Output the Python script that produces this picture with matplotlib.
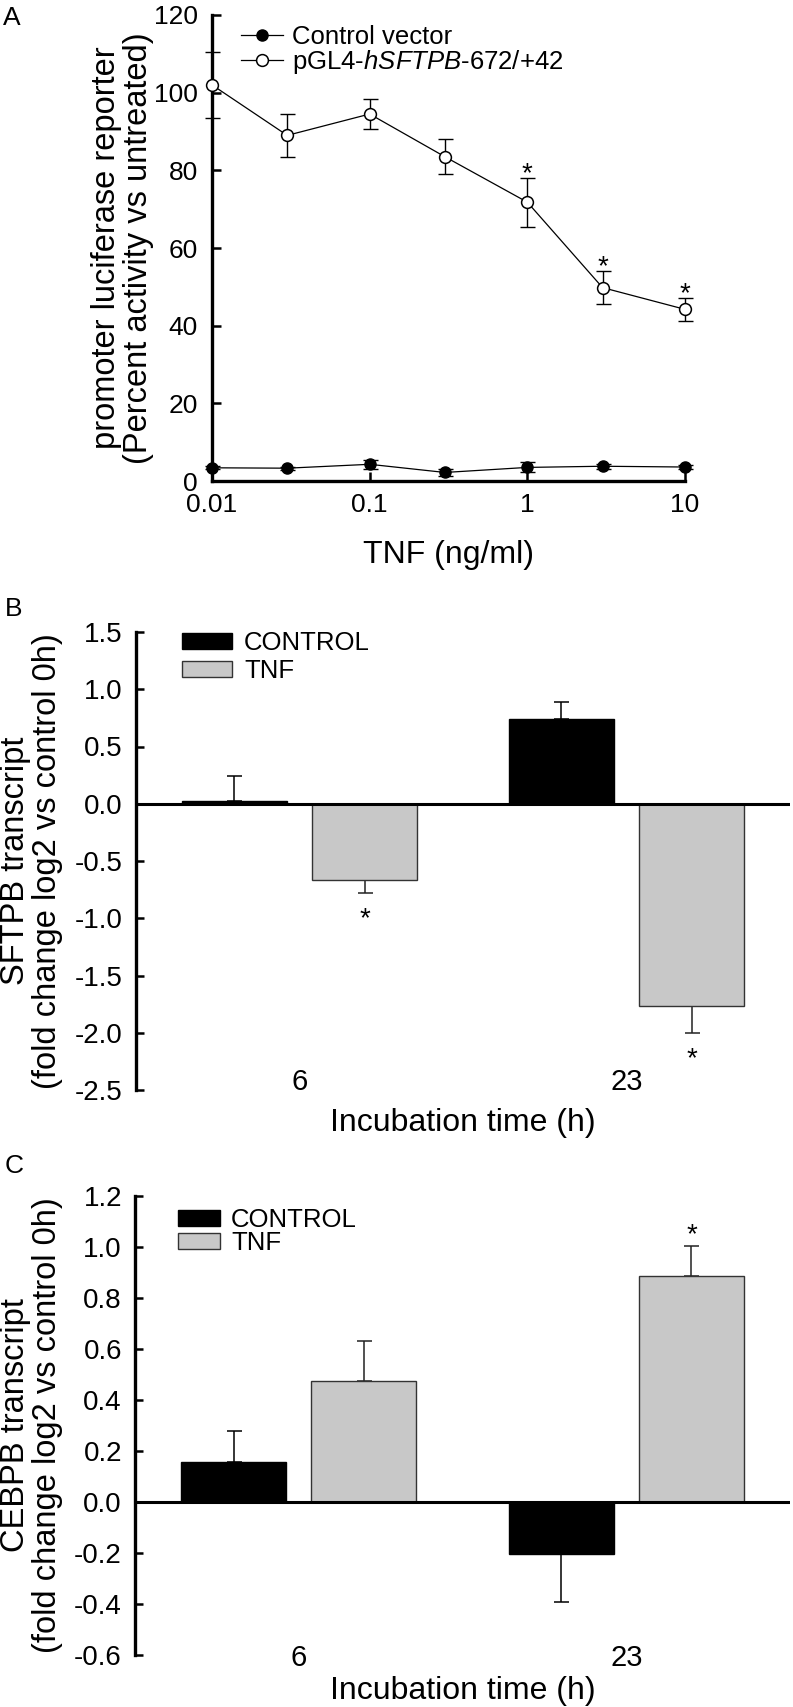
import matplotlib
matplotlib.use('Agg')
import matplotlib.pyplot as plt
from matplotlib.ticker import NullLocator
import numpy as np

# ---- Panel A: promoter luciferase reporter vs TNF dose ----
tnf_dose = [0.01, 0.03, 0.1, 0.3, 1, 3, 10]
dose_ticks = [0.01, 0.1, 1, 10]
dose_tick_labels = ['0.01', '0.1', '1', '10']
control_vector = [3.4, 3.3, 4.3, 2.2, 3.5, 3.8, 3.6]
control_vector_err = [0.4, 0.4, 1.2, 0.8, 1.3, 0.6, 0.6]
promoter = [102.0, 89.0, 94.5, 83.5, 71.8, 49.8, 44.2]
promoter_err = [8.6, 5.5, 3.8, 4.5, 6.3, 4.2, 3.0]
promoter_sig = [False, False, False, False, True, True, True]

# ---- Panels B and C: transcripts vs incubation time ----
times = ['6', '23']
sftpb_control = [0.02, 0.74]
sftpb_control_err = [0.22, 0.147]
sftpb_tnf = [-0.67, -1.77]
sftpb_tnf_err = [0.107, 0.236]
sftpb_tnf_sig = [True, True]

cebpb_control = [0.158, -0.202]
cebpb_control_err = [0.119, 0.189]
cebpb_tnf = [0.475, 0.887]
cebpb_tnf_err = [0.158, 0.117]
cebpb_tnf_sig = [False, True]

W, H = 793, 1707
plt.rcParams['font.family'] = ['Liberation Sans', 'DejaVu Sans']
plt.rcParams['mathtext.fontset'] = 'custom'
plt.rcParams['mathtext.rm'] = 'Liberation Sans'
plt.rcParams['mathtext.it'] = 'Liberation Sans:italic'
plt.rcParams['axes.unicode_minus'] = False

GRAY = '#c8c8c8'


def fx(px):
    return px / W


def fy(py):
    return 1 - py / H


def box(left, top, right, bottom):
    return [fx(left), fy(bottom), (right - left) / W, (bottom - top) / H]


def px2pt(px):
    return px * 72 / 100


fig = plt.figure(figsize=(W / 100, H / 100), dpi=100)

# ================= A =================
ax = fig.add_axes(box(212, 15, 685, 481))
ax.set_xscale('log')
ax.set_xlim(0.01, 10)
ax.set_ylim(0, 120)

ax.errorbar(tnf_dose, control_vector, yerr=control_vector_err, fmt='none',
            ecolor='black', elinewidth=1.0, capsize=5.4, capthick=1.0,
            clip_on=False, zorder=2)
ax.plot(tnf_dose, control_vector, '-o', color='black', lw=0.9, ms=8,
        mfc='black', mec='black', clip_on=False, zorder=3,
        label='Control vector')
ax.errorbar(tnf_dose, promoter, yerr=promoter_err, fmt='none',
            ecolor='black', elinewidth=1.0, capsize=5.4, capthick=1.0,
            clip_on=False, zorder=2)
ax.plot(tnf_dose, promoter, '-o', color='black', lw=0.9, ms=8.5,
        mfc='white', mec='black', mew=1.1, clip_on=False, zorder=3,
        label=r'pGL4-$\it{hSFTPB}$-672/+42')

for d, v, e, s in zip(tnf_dose, promoter, promoter_err, promoter_sig):
    if s:
        ax.annotate('*', xy=(d, v + e), xytext=(0, px2pt(-3)),
                    textcoords='offset points', ha='center', va='baseline',
                    fontsize=20)

for side in ['top', 'right']:
    ax.spines[side].set_visible(False)
for side in ['left', 'bottom']:
    ax.spines[side].set_linewidth(2.4)
ax.set_xticks(dose_ticks)
ax.set_xticklabels(dose_tick_labels)
ax.xaxis.set_minor_locator(NullLocator())
ax.set_yticks(np.arange(0, 121, 20))
ax.tick_params(axis='both', direction='in', length=6.5, width=1.8,
               labelsize=19)
ax.tick_params(axis='y', pad=10)
ax.tick_params(axis='x', pad=8.6)

ax.set_xlabel('TNF (ng/ml)', fontsize=23)
ax.xaxis.label.set_va('center')
ax.xaxis.set_label_coords(0.5, (481 - 555) / 466)
ax.set_ylabel('promoter luciferase reporter\n(Percent activity vs untreated)',
              fontsize=23.5, linespacing=1.05)
ax.yaxis.set_label_coords((154 - 212) / 473, 0.5)

ax.legend(loc='upper left', bbox_to_anchor=(fx(241), fy(25)),
          bbox_transform=fig.transFigure, frameon=False, fontsize=18.5,
          borderpad=0, borderaxespad=0, handlelength=1.63,
          handletextpad=0.35, labelspacing=-0.04)


def bar_panel(box_px, control, control_err, tnf, tnf_err, tnf_sig, ylim,
              yticks, ylabel, xlabel_y, tick_pad, legend_px, legend_opts,
              star_gap):
    left, top, right, bottom = box_px
    ax = fig.add_axes(box(*box_px))
    x = np.arange(len(times))
    width = 0.321
    offset = 0.199
    ax.set_xlim(-0.5, len(times) - 0.5)
    ax.set_ylim(*ylim)

    def one_sided(vals, errs):
        lower = [e if v < 0 else 0 for v, e in zip(vals, errs)]
        upper = [e if v >= 0 else 0 for v, e in zip(vals, errs)]
        return [lower, upper]

    ax.errorbar(x - offset, control, yerr=one_sided(control, control_err),
                fmt='none', ecolor='black', elinewidth=1.1, capsize=5.4,
                capthick=1.1, zorder=1)
    ax.errorbar(x + offset, tnf, yerr=one_sided(tnf, tnf_err),
                fmt='none', ecolor='#222222', elinewidth=1.1, capsize=5.4,
                capthick=1.1, zorder=1)
    ax.bar(x - offset, control, width, color='black', edgecolor='black',
           linewidth=1.0, label='CONTROL', zorder=2)
    ax.bar(x + offset, tnf, width, color=GRAY, edgecolor='#333333',
           linewidth=1.0, label='TNF', zorder=2)
    ax.axhline(0, color='black', lw=2.2, zorder=3)

    for xi, v, e, s in zip(x + offset, tnf, tnf_err, tnf_sig):
        if not s:
            continue
        if v < 0:
            ax.annotate('*', xy=(xi, v - e), xytext=(0, px2pt(-(star_gap + 16))),
                        textcoords='offset points', ha='center', va='baseline',
                        fontsize=20)
        else:
            ax.annotate('*', xy=(xi, v + e), xytext=(0, px2pt(star_gap - 16)),
                        textcoords='offset points', ha='center', va='baseline',
                        fontsize=20)

    for side in ['top', 'right', 'bottom']:
        ax.spines[side].set_visible(False)
    ax.spines['left'].set_linewidth(2.4)
    ax.set_yticks(yticks)
    ax.set_yticklabels(['%.1f' % t for t in yticks])
    ax.tick_params(axis='y', direction='in', length=6, width=1.8,
                   labelsize=20, pad=9.4)
    ax.set_xticks(x)
    ax.set_xticklabels(times)
    ax.tick_params(axis='x', length=0, labelsize=21, pad=tick_pad)
    plt.setp(ax.get_xticklabels(), va='center')

    ax.set_xlabel('Incubation time (h)', fontsize=23)
    ax.xaxis.label.set_va('center')
    ax.xaxis.set_label_coords(0.5, (bottom - xlabel_y) / (bottom - top))
    ax.set_ylabel(ylabel, fontsize=23.5, linespacing=1.05)
    ax.yaxis.set_label_coords((63 - left) / (right - left), 0.5)

    ax.legend(loc='upper left', bbox_to_anchor=(fx(legend_px[0]), fy(legend_px[1])),
              bbox_transform=fig.transFigure, frameon=False, fontsize=18.5,
              borderpad=0, borderaxespad=0, **legend_opts)
    return ax


# ================= B =================
bar_panel((136, 632, 790, 1090), sftpb_control, sftpb_control_err,
          sftpb_tnf, sftpb_tnf_err, sftpb_tnf_sig, (-2.5, 1.5),
          np.arange(-2.5, 1.51, 0.5),
          'SFTPB transcript\n(fold change log2 vs control 0h)',
          1123, px2pt(-8), (182, 631),
          dict(handlelength=1.95, handleheight=0.55, handletextpad=0.47,
               labelspacing=0.16),
          17)

# ================= C =================
bar_panel((135, 1196, 790, 1655), cebpb_control, cebpb_control_err,
          cebpb_tnf, cebpb_tnf_err, cebpb_tnf_sig, (-0.6, 1.2),
          np.round(np.arange(-0.6, 1.21, 0.2), 1),
          'CEBPB transcript\n(fold change log2 vs control 0h)',
          1691, px2pt(3), (178, 1208),
          dict(handlelength=1.63, handleheight=0.55, handletextpad=0.43,
               labelspacing=-0.04),
          20)

# panel letters
fig.text(fx(3), fy(6), 'A', ha='left', va='top', fontsize=19)
fig.text(fx(5), fy(597), 'B', ha='left', va='top', fontsize=19)
fig.text(fx(5), fy(1154), 'C', ha='left', va='top', fontsize=19)

fig.savefig('out.png', dpi=100)
